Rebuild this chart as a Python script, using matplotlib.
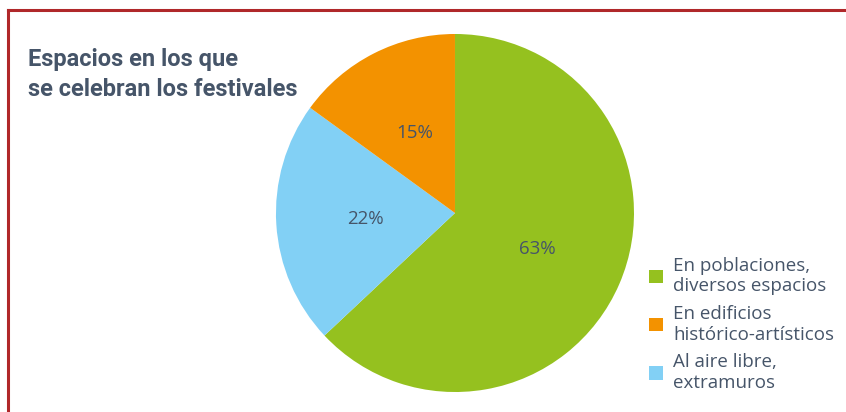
import matplotlib.pyplot as plt
from matplotlib.patches import Patch
from matplotlib.lines import Line2D

# data
categories = ['En poblaciones,\ndiversos espacios',
              'En edificios\nhistórico-artísticos',
              'Al aire libre,\nextramuros']
values = [63, 15, 22]
colors = ['#95C11F', '#F39200', '#82D0F5']
text_color = '#465569'

plt.rcParams['font.family'] = ['Open Sans', 'DejaVu Sans']

fig = plt.figure(figsize=(8.46, 4.12), dpi=100)

# pie, clockwise from the top: green, blue, orange
order = [0, 2, 1]
ax = fig.add_axes([0.3262, 0.0485, 0.4232, 0.869])
wedges, texts = ax.pie([values[i] for i in order],
                       colors=[colors[i] for i in order],
                       labels=[f'{values[i]}%' for i in order],
                       labeldistance=0.5, startangle=90, counterclock=False,
                       textprops={'color': text_color, 'fontsize': 13.5})
for t in texts:
    t.set_ha('center')
    t.set_va('center')
ax.set_xlim(-1, 1)
ax.set_ylim(-1, 1)
ax.set_aspect('equal')

# title
fig.text(0.033, 0.82, 'Espacios en los que\nse celebran los festivales',
         fontsize=17, fontweight='bold', color=text_color,
         family=['Roboto', 'DejaVu Sans'],
         va='center', ha='left', linespacing=1.4)

# legend
handles = [Patch(facecolor=c, edgecolor='none') for c in colors]
fig.legend(handles, categories, loc='upper left', bbox_to_anchor=(0.756, 0.40),
           frameon=False, fontsize=13.5, labelcolor=text_color,
           handlelength=0.75, handleheight=0.75, handletextpad=0.55,
           labelspacing=0.5, borderpad=0)
for t in fig.legends[0].get_texts():
    t.set_linespacing(1.2)

# red frame on top and left
red = '#B0282A'
fig.add_artist(Line2D([0.0095, 1.0], [0.976, 0.976], color=red, lw=2.2,
                      transform=fig.transFigure))
fig.add_artist(Line2D([0.0095, 0.0095], [0.0, 0.976], color=red, lw=2.2,
                      transform=fig.transFigure))

fig.savefig('out.png', dpi=100)
